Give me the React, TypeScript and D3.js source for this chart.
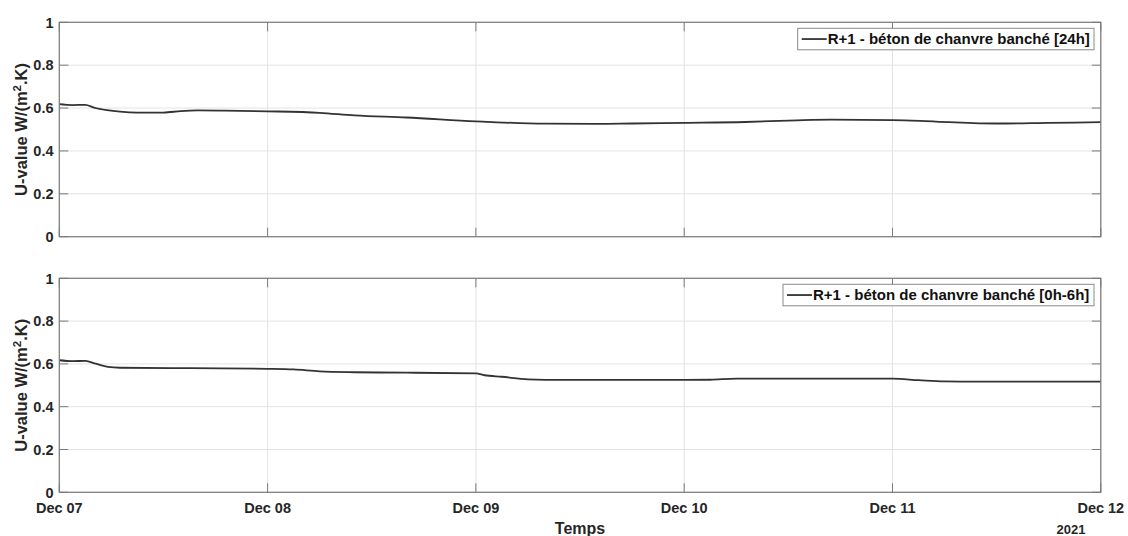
import React from "react";
import * as d3 from "d3";

const dayTicks = ["2021-12-07", "2021-12-08", "2021-12-09", "2021-12-10", "2021-12-11", "2021-12-12"];
const dayTickLabels = ["Dec 07", "Dec 08", "Dec 09", "Dec 10", "Dec 11", "Dec 12"];
const yTicks = [0, 0.2, 0.4, 0.6, 0.8, 1];
const yTickLabels = ["0", "0.2", "0.4", "0.6", "0.8", "1"];

// hours after 2021-12-07 00:00
const hoursTop = [0, 1.5, 3, 4, 5.5, 7, 9, 12, 14, 16, 19, 24, 30, 34, 40, 48, 56, 62, 66, 72, 79, 85, 89, 96, 101, 108, 114, 120];
const valuesTop = [0.618, 0.614, 0.615, 0.602, 0.59, 0.583, 0.579, 0.579, 0.586, 0.589, 0.588, 0.585, 0.578, 0.566, 0.556, 0.538, 0.527, 0.526, 0.528, 0.531, 0.535, 0.543, 0.546, 0.544, 0.537, 0.528, 0.531, 0.534];

const hoursBottom = [0, 1.5, 3, 4.2, 5.6, 7, 15, 24, 27, 30, 34, 40, 48, 49, 51, 54, 58, 72, 75, 78, 96, 99, 102, 108, 120];
const valuesBottom = [0.617, 0.613, 0.614, 0.601, 0.586, 0.582, 0.58, 0.577, 0.574, 0.565, 0.561, 0.559, 0.556, 0.547, 0.54, 0.528, 0.525, 0.525, 0.526, 0.531, 0.531, 0.524, 0.518, 0.517, 0.517];

const legendTop = "R+1 - béton de chanvre banché [24h]";
const legendBottom = "R+1 - béton de chanvre banché [0h-6h]";
const yAxisLabel = "U-value W/(m";
const xAxisLabel = "Temps";
const yearLabel = "2021";

const FONT = "'Liberation Sans', Arial, Helvetica, sans-serif";
const START = new Date(2021, 11, 7, 0, 0, 0);

const x = d3
  .scaleTime()
  .domain([START, new Date(2021, 11, 12, 0, 0, 0)])
  .range([59.3, 1100.8]);

const parseDay = (s: string) => {
  const [yy, mm, dd] = s.split("-").map(Number);
  return new Date(yy, mm - 1, dd);
};

type PanelProps = {
  top: number;
  bottom: number;
  hours: number[];
  values: number[];
  legend: string;
  legendX: number;
  showX: boolean;
};

function Panel({ top, bottom, hours, values, legend, legendX, showX }: PanelProps) {
  const y = d3.scaleLinear().domain([0, 1]).range([bottom, top]);
  const [x0, x1] = x.range();
  const pts = hours.map((h, i) => [x(new Date(START.getTime() + h * 3600000)), y(values[i])] as [number, number]);
  const line = d3.line().curve(d3.curveMonotoneX)(pts) || "";
  const tickLen = 9;
  const axisColor = "#7a7a7a";
  const gridColor = "#e3e3e3";
  const legendRight = 1094;
  const legendTop = top + 6;
  const legendH = 21.5;
  return (
    <g>
      {/* grid */}
      {dayTicks.map((d, i) => (
        <line key={"gx" + i} x1={x(parseDay(d))} x2={x(parseDay(d))} y1={top} y2={bottom} stroke={gridColor} strokeWidth={1} />
      ))}
      {yTicks.map((v, i) => (
        <line key={"gy" + i} x1={x0} x2={x1} y1={y(v)} y2={y(v)} stroke={gridColor} strokeWidth={1} />
      ))}
      {/* data */}
      <path d={line} fill="none" stroke="#333333" strokeWidth={1.8} strokeLinejoin="round" />
      {/* frame */}
      <rect x={x0} y={top} width={x1 - x0} height={bottom - top} fill="none" stroke={axisColor} strokeWidth={1.2} />
      {/* ticks */}
      {dayTicks.map((d, i) => {
        const xx = x(parseDay(d));
        return (
          <g key={"tx" + i}>
            <line x1={xx} x2={xx} y1={bottom} y2={bottom - tickLen} stroke={axisColor} strokeWidth={1} />
            <line x1={xx} x2={xx} y1={top} y2={top + tickLen} stroke={axisColor} strokeWidth={1} />
          </g>
        );
      })}
      {yTicks.map((v, i) => (
        <g key={"ty" + i}>
          <line x1={x0} x2={x0 + tickLen} y1={y(v)} y2={y(v)} stroke={axisColor} strokeWidth={1} />
          <line x1={x1} x2={x1 - tickLen} y1={y(v)} y2={y(v)} stroke={axisColor} strokeWidth={1} />
          <text x={53.5} y={y(v)} dy="0.36em" textAnchor="end" fontFamily={FONT} fontWeight="bold" fontSize={14.5} fill="#262626">
            {yTickLabels[i]}
          </text>
        </g>
      ))}
      {showX &&
        dayTicks.map((d, i) => (
          <text key={"lx" + i} x={x(parseDay(d))} y={bottom + 21} textAnchor="middle" fontFamily={FONT} fontWeight="bold" fontSize={14.5} fill="#262626">
            {dayTickLabels[i]}
          </text>
        ))}
      {/* y label */}
      <text
        transform={`translate(26.5,${(top + bottom) / 2}) rotate(-90)`}
        textAnchor="middle"
        fontFamily={FONT}
        fontWeight="bold"
        fontSize={16.5}
        fill="#262626"
      >
        {yAxisLabel}
        <tspan dy={-6} fontSize={11.5}>2</tspan>
        <tspan dy={6}>.K)</tspan>
      </text>
      {/* legend */}
      <rect x={legendX} y={legendTop} width={legendRight - legendX} height={legendH} fill="#ffffff" stroke="#8a8a8a" strokeWidth={1} />
      <line x1={legendX + 4} x2={legendX + 29} y1={legendTop + legendH / 2} y2={legendTop + legendH / 2} stroke="#333333" strokeWidth={1.8} />
      <text x={legendX + 30} y={legendTop + legendH / 2} dy="0.36em" fontFamily={FONT} fontWeight="bold" fontSize={15} fill="#111111">
        {legend}
      </text>
    </g>
  );
}

export default function App() {
  return (
    <svg
      width={1128}
      height={536}
      viewBox="0 0 1128 536"
      style={{ position: "absolute", left: 0, top: 0, background: "#ffffff" }}
    >
      <rect x={0} y={0} width={1128} height={536} fill="#ffffff" />
      <Panel top={22.3} bottom={236.7} hours={hoursTop} values={valuesTop} legend={legendTop} legendX={797.7} showX={false} />
      <Panel top={278.3} bottom={492.3} hours={hoursBottom} values={valuesBottom} legend={legendBottom} legendX={783} showX={true} />
      <text x={580} y={533.5} textAnchor="middle" fontFamily={FONT} fontWeight="bold" fontSize={16} fill="#262626">
        {xAxisLabel}
      </text>
      <text x={1071} y={534} textAnchor="middle" fontFamily={FONT} fontWeight="bold" fontSize={13} fill="#262626">
        {yearLabel}
      </text>
    </svg>
  );
}
